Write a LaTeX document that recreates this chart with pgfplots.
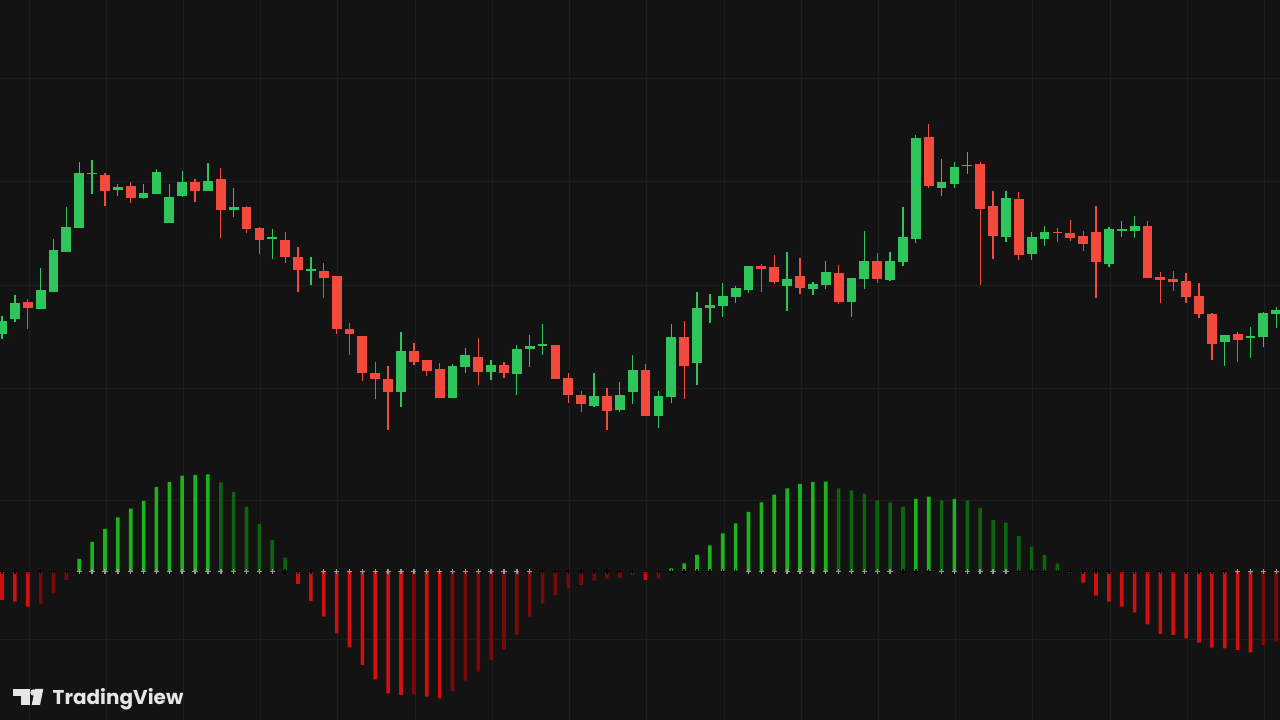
\documentclass[border=0pt]{standalone}
\usepackage{pgfplots}
\pgfplotsset{compat=1.18}
\usepackage{pgfplotstable}
\usepackage{fontspec}
\newfontfamily\tvfont{Poppins}

\definecolor{bg}{HTML}{131313}
\definecolor{gridc}{HTML}{1E1E1E}
\definecolor{cgreen}{HTML}{2EC65A}
\definecolor{cred}{HTML}{F44A3E}
\definecolor{hlime}{HTML}{1AB51A}
\definecolor{hgreen}{HTML}{0C650C}
\definecolor{hred}{HTML}{D20F0F}
\definecolor{hmaroon}{HTML}{780A0A}
\definecolor{crossgray}{HTML}{9A9A9A}
\definecolor{logo}{HTML}{E6E6E6}

% price candles: index, open, high, low, close
\pgfplotstableread{
i o h l c
0 386 404 381 399
1 400.7 424.7 398.3 417.3
2 418.3 420.7 391 412.3
3 411.3 451.7 410.7 430
4 428.3 480.7 428.3 470
5 468 512.7 468 493.3
6 491.7 558 491.7 547.3
7 546 560 526 547.3
8 545 546.7 514 529.3
9 530 535.7 524 533.3
10 534.3 538.3 517.3 521.7
11 521.7 535.7 520.7 526.7
12 526.3 550.7 526.3 548
13 497 535.7 497 523.3
14 523.7 549.3 522.7 538.3
15 538.3 540.7 518.3 529.3
16 529.3 556.7 529.3 539.3
17 540.7 551.7 481.7 510
18 510.3 531.7 503.3 512.7
19 512.7 514 486.7 490.7
20 491.7 493 466 480
21 480.7 490.7 460.7 483.3
22 480 488.3 457.3 463.3
23 463.3 472.7 428.3 449.7
24 449.6 463.3 435 450.8
25 449.3 456.7 421.7 442.3
26 444.3 444.3 385.7 390.7
27 390.7 397.3 365 385.7
28 384 384 339.3 346.7
29 346.7 357.7 321.3 341.3
30 341.3 354.3 290 328.3
31 328.3 387.7 312.7 369
32 369.3 377.3 355 358.3
33 360 360 344.3 349
34 350.7 356.7 321.7 321.7
35 321.7 355.7 321.7 354
36 353.3 371.7 346.7 365
37 362.7 381.7 335 347.7
38 347.7 360 340 355.3
39 355.3 358.3 342.3 346.7
40 346 375 325 371
41 370.7 385 353.3 374.3
42 374.3 395.7 365 375.7
43 375.3 375.3 341.3 341.3
44 342.3 347.3 316.7 325.3
45 325.3 329 308.3 315.7
46 314.3 346.7 313.3 324
47 324 331.7 290 309.3
48 310 337.7 308.3 325.3
49 328.3 365 316 349.7
50 349.7 355.7 304 304
51 304 329.3 291.7 324
52 323.3 395.7 316.7 383
53 383 399.3 320.7 354.3
54 356.7 428.3 335 411.7
55 412.3 426 396.7 415
56 413.7 436.7 403.3 423.7
57 423.3 434.3 416.7 432.3
58 430 454 427.3 454
59 454.3 456 428.3 451
60 453 465 436 437.7
61 434 467.7 409 441
62 444 461.7 426 431.7
63 430.7 437.7 425 436
64 435 459.3 430.7 448.3
65 446.7 455 416 418.3
66 418.3 442.3 402.7 442.3
67 441 489.3 430.7 459.3
68 459.3 466.7 436.7 441
69 440 468.3 439 459.3
70 458.3 512.7 454.3 482.7
71 481 585 477.3 581.7
72 582.7 596 531.7 534.3
73 532.3 561 524 537.7
74 535.7 557.7 532.3 552.7
75 554.2 568.3 546 555.4
76 556 558.3 435 510.7
77 514 529 460.7 484
78 482.7 529 478.3 521.7
79 520.7 528.3 460 465
80 466 487.7 460 482.7
81 481 494.3 474 488.3
82 488.4 492.3 478.3 487.2
83 487.3 500 479.3 481.7
84 484 489 469.3 475.7
85 488.3 514 421.7 458.3
86 456 493.3 452.7 490.7
87 489.6 499 482.7 490.8
88 489.3 504 481.7 494.3
89 494.3 499 442.3 442.3
90 443.3 448.3 417.3 440
91 441 449.3 429.3 438.3
92 439 447.3 417.3 422.7
93 424 436.7 401.7 405.7
94 405.7 406.7 360 375.7
95 377.7 385 354.3 385
96 386.3 388.3 358.3 380
97 382.4 392.7 361.7 383.6
98 383.3 408.3 373.3 406.7
99 406 413.3 391.7 410
}\candles

% squeeze momentum: value, colour class (1 lime, 2 green, 3 red, 4 maroon), cross (1 grey, 0 black)
\pgfplotstableread{
i v k s
0 -29 3 0
1 -30.7 3 0
2 -35.7 3 0
3 -33 4 0
4 -22.3 4 0
5 -9 4 0
6 12 1 1
7 29 1 1
8 42 1 1
9 53.7 1 1
10 62.3 1 1
11 70 1 1
12 84 1 1
13 89 1 1
14 95.3 1 1
15 96 1 1
16 96.7 1 1
17 88.7 2 1
18 79 2 1
19 64.3 2 1
20 47 2 1
21 31 2 1
22 13.3 2 0
23 -13 3 0
24 -30 3 0
25 -45.7 3 1
26 -62.3 3 1
27 -76.3 3 1
28 -94 3 1
29 -108.3 3 1
30 -122.3 3 1
31 -124 3 1
32 -123.5 4 1
33 -125.7 3 1
34 -127.3 3 1
35 -120 4 1
36 -109.7 4 1
37 -100.7 4 1
38 -89 4 1
39 -79 4 1
40 -64 4 1
41 -45.7 4 1
42 -32.3 4 0
43 -24 4 0
44 -17.3 4 0
45 -14 4 0
46 -9.7 4 0
47 -7.3 4 0
48 -7 4 0
49 -4 4 0
50 -9 3 0
51 -7.3 4 0
52 2.7 1 0
53 7.7 1 0
54 16 1 0
55 25.7 1 0
56 37.7 1 0
57 47.7 1 0
58 59 1 1
59 68.7 1 1
60 76.3 1 1
61 82.7 1 1
62 87 1 1
63 89 1 1
64 89.3 1 1
65 82.7 2 1
66 80.7 2 1
67 77.3 2 1
68 70.7 2 1
69 68.7 2 1
70 64.3 2 0
71 72 1 0
72 74.3 1 0
73 70.7 2 1
74 72 1 1
75 70.7 2 1
76 63 2 1
77 51 2 1
78 48.3 2 1
79 35 2 0
80 24.3 2 0
81 16 2 0
82 7.3 2 0
83 -1.7 3 0
84 -11.7 3 0
85 -24.7 3 0
86 -30.7 3 0
87 -35.7 3 0
88 -41.3 3 0
89 -53.3 3 0
90 -63 3 0
91 -64 3 0
92 -67.3 3 0
93 -71.7 3 0
94 -76.7 3 0
95 -77.3 3 0
96 -79 3 1
97 -81.3 3 1
98 -74 4 1
99 -70.7 4 1
}\squeeze

\pgfplotsset{
  pane/.style={
    width=1280pt, height=720pt, scale only axis,
    at={(0pt,0pt)}, anchor=south west,
    xmin=-0.155, xmax=99.3,
    axis line style={draw=none},
    major tick length=0pt,
    xticklabels={}, yticklabels={},
    grid style={draw=gridc, line width=1pt},
  },
  body/.style={draw=none, no markers,
    error bars/y dir=both, error bars/y explicit, error bars/error mark=none,
    error bars/error bar style={draw=#1, line width=9.8pt}},
  wick/.style={draw=none, no markers,
    error bars/y dir=both, error bars/y explicit, error bars/error mark=none,
    error bars/error bar style={draw=#1, line width=1.3pt}},
}

\begin{document}
\begin{tikzpicture}
\useasboundingbox (0pt,0pt) rectangle (1280pt,720pt);

% oscillator pane (drawn first, carries the background and vertical grid)
\begin{axis}[pane,
  axis background/.style={fill=bg},
  ymin=-149, ymax=571,
  xtick={2.1,8.1,...,98.1}, ytick={-69,70},
  xmajorgrids, ymajorgrids]
  \addplot[ybar, bar width=3.6pt, bar shift=0pt, draw=none, fill=hlime,
    restrict expr to domain={\thisrow{k}}{0.5:1.5}] table[x=i,y=v]{\squeeze};
  \addplot[ybar, bar width=3.6pt, bar shift=0pt, draw=none, fill=hgreen,
    restrict expr to domain={\thisrow{k}}{1.5:2.5}] table[x=i,y=v]{\squeeze};
  \addplot[ybar, bar width=3.6pt, bar shift=0pt, draw=none, fill=hred,
    restrict expr to domain={\thisrow{k}}{2.5:3.5}] table[x=i,y=v]{\squeeze};
  \addplot[ybar, bar width=3.6pt, bar shift=0pt, draw=none, fill=hmaroon,
    restrict expr to domain={\thisrow{k}}{3.5:4.5}] table[x=i,y=v]{\squeeze};
  \addplot[only marks, mark=+, mark size=2.6pt, line width=1.4pt, black,
    restrict expr to domain={\thisrow{s}}{-0.5:0.5}] table[x=i,y expr=-0.7]{\squeeze};
  \addplot[only marks, mark=+, mark size=2.6pt, line width=1.4pt, crossgray,
    restrict expr to domain={\thisrow{s}}{0.5:1.5}] table[x=i,y expr=-0.7]{\squeeze};
\end{axis}

% price pane
\begin{axis}[pane,
  ymin=0, ymax=720,
  xtick=\empty, ytick={331.3,434.7,538.3,641.8},
  ymajorgrids]
  \addplot[restrict expr to domain={\thisrow{c}-\thisrow{o}}{0:1000}, wick=cgreen]
    table[x=i, y expr={(\thisrow{h}+\thisrow{l})/2}, y error expr={(\thisrow{h}-\thisrow{l})/2}]{\candles};
  \addplot[restrict expr to domain={\thisrow{c}-\thisrow{o}}{-1000:-0.001}, wick=cred]
    table[x=i, y expr={(\thisrow{h}+\thisrow{l})/2}, y error expr={(\thisrow{h}-\thisrow{l})/2}]{\candles};
  \addplot[restrict expr to domain={\thisrow{c}-\thisrow{o}}{0:1000}, body=cgreen]
    table[x=i, y expr={(\thisrow{o}+\thisrow{c})/2}, y error expr={abs(\thisrow{c}-\thisrow{o})/2}]{\candles};
  \addplot[restrict expr to domain={\thisrow{c}-\thisrow{o}}{-1000:-0.001}, body=cred]
    table[x=i, y expr={(\thisrow{o}+\thisrow{c})/2}, y error expr={abs(\thisrow{c}-\thisrow{o})/2}]{\candles};
\end{axis}

% TradingView mark
\fill[logo] (12.7pt,31pt) rectangle (30pt,24.3pt);
\fill[logo] (20.7pt,31pt) rectangle (30pt,15pt);
\fill[logo] (33.5pt,27.5pt) circle (3.2pt);
\fill[logo] (31.7pt,15pt) -- (40pt,15pt) -- (43.3pt,31pt) -- (35pt,31pt) -- cycle;
\node[anchor=base west, inner sep=0pt, text=logo] at (52.5pt,15pt)
  {\fontsize{20}{20}\selectfont\tvfont\bfseries TradingView};
\end{tikzpicture}
\end{document}
